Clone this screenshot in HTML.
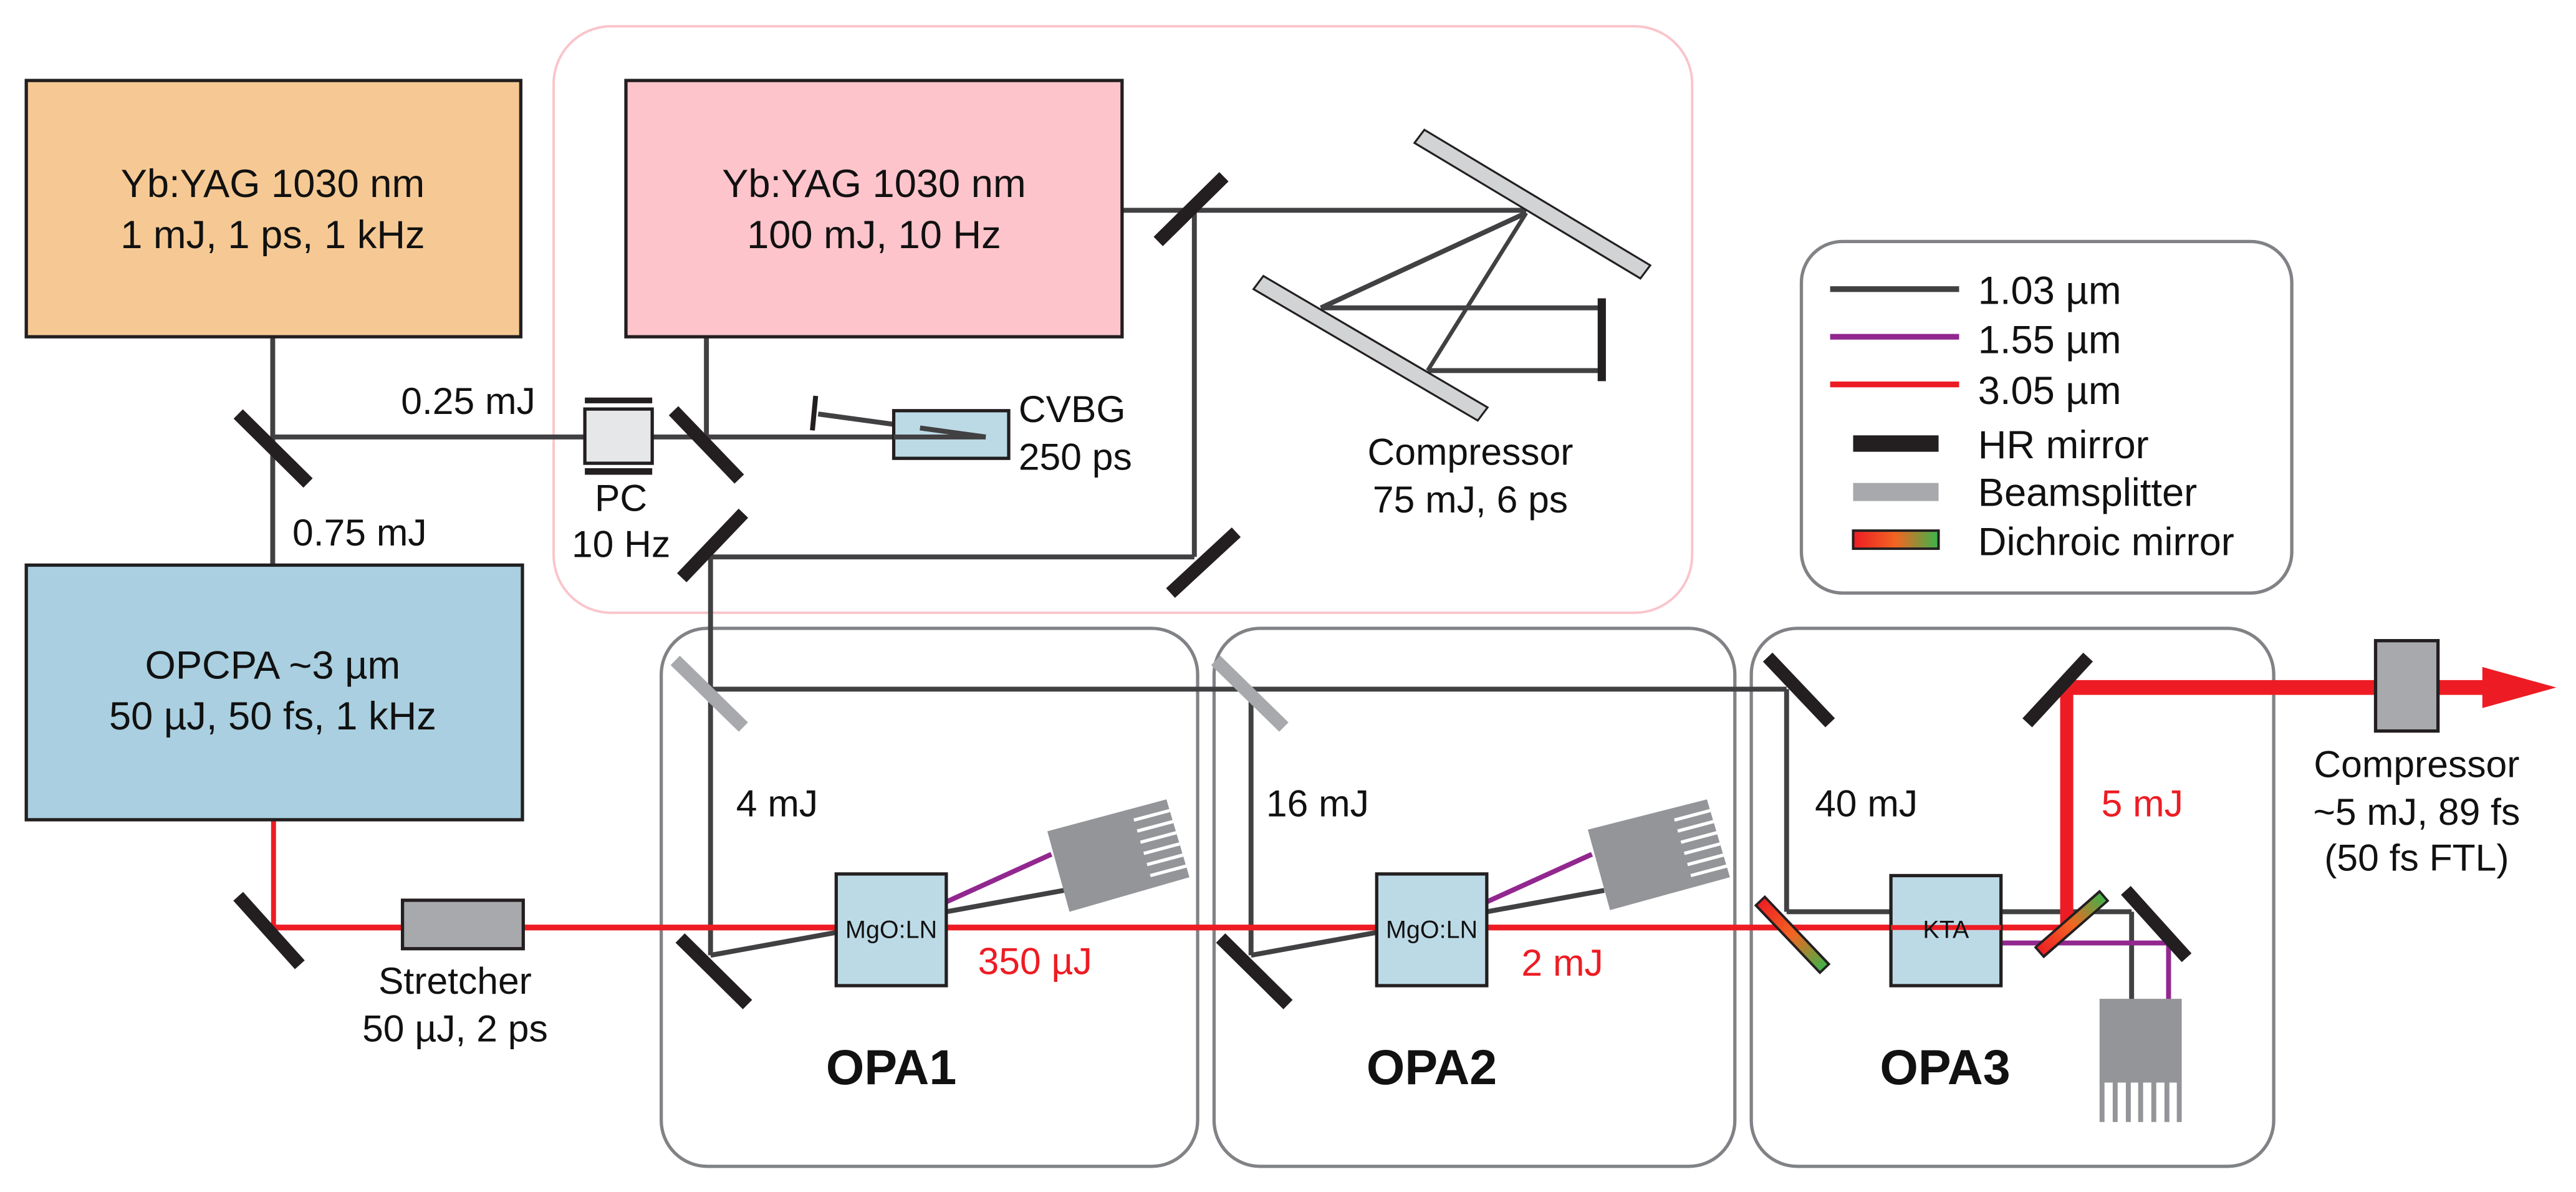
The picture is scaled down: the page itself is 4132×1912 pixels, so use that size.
<!DOCTYPE html>
<html><head><meta charset="utf-8"><style>
html,body{margin:0;padding:0;background:#fff;}
svg{display:block;}
text{font-family:"Liberation Sans",Arial,sans-serif;fill:#111;}
</style></head><body>
<svg xmlns="http://www.w3.org/2000/svg" width="4132" height="1912" viewBox="0 0 1568 725.6" preserveAspectRatio="none">
<defs>
<linearGradient id="dg" x1="0" y1="0" x2="1" y2="0">
<stop offset="0" stop-color="#ed1c24"/><stop offset="0.5" stop-color="#f26522"/><stop offset="1" stop-color="#39b54a"/>
</linearGradient>
<linearGradient id="dg1" gradientUnits="userSpaceOnUse" x1="1071" y1="548" x2="1111" y2="590">
<stop offset="0" stop-color="#ed1c24"/><stop offset="0.5" stop-color="#f26522"/><stop offset="1" stop-color="#39b54a"/>
</linearGradient>
<linearGradient id="dg2" gradientUnits="userSpaceOnUse" x1="1241" y1="580" x2="1281" y2="545">
<stop offset="0" stop-color="#ed1c24"/><stop offset="0.5" stop-color="#f26522"/><stop offset="1" stop-color="#39b54a"/>
</linearGradient>
</defs>

<rect x="337" y="16" width="693" height="357" rx="35" fill="none" stroke="#f9c5cb" stroke-width="1.5"/>
<rect x="402.5" y="382.5" width="326.5" height="327.5" rx="28" fill="none" stroke="#808285" stroke-width="2"/>
<rect x="739" y="382.5" width="317" height="327.5" rx="28" fill="none" stroke="#808285" stroke-width="2"/>
<rect x="1066" y="382.5" width="318" height="327.5" rx="28" fill="none" stroke="#808285" stroke-width="2"/>
<rect x="1096.5" y="147" width="298.5" height="214" rx="25" fill="none" stroke="#808285" stroke-width="2"/>

<g stroke="#414042" stroke-width="3" fill="none">
<line x1="166" y1="205" x2="166" y2="344"/>
<line x1="166" y1="266" x2="600" y2="266"/>
<line x1="430" y1="205" x2="430" y2="266"/>
<line x1="600" y1="266" x2="498" y2="252"/>
<line x1="683" y1="128" x2="929" y2="128"/>
<line x1="727" y1="128" x2="727" y2="339"/>
<line x1="433" y1="339" x2="727" y2="339"/>
<line x1="432.5" y1="339" x2="432.5" y2="581.5"/>
<line x1="432.5" y1="419.5" x2="1087.5" y2="419.5"/>
<line x1="1087.5" y1="419.5" x2="1087.5" y2="555"/>
<line x1="1087.5" y1="555" x2="1151" y2="555"/>
<line x1="432.5" y1="581.5" x2="509" y2="567.6"/>
<line x1="576" y1="555" x2="647.5" y2="542"/>
<line x1="761.5" y1="419.5" x2="761.5" y2="581.5"/>
<line x1="761.5" y1="581.5" x2="838" y2="567.6"/>
<line x1="905" y1="555" x2="976.5" y2="542"/>
<line x1="929" y1="129.6" x2="804" y2="187.4"/>
<line x1="929" y1="129.6" x2="869" y2="225.6" stroke-width="2.5"/>
<line x1="804" y1="187.4" x2="975" y2="187.4"/>
<line x1="869" y1="225.6" x2="975" y2="225.6"/>
<line x1="1218" y1="555" x2="1297.5" y2="555"/>
<line x1="1297.5" y1="555" x2="1297.5" y2="610"/>
</g>
<line x1="496.5" y1="241" x2="494.5" y2="262" stroke="#231f20" stroke-width="3"/>
<g stroke="#92278f" stroke-width="3" fill="none">
<line x1="576" y1="549" x2="640" y2="520"/>
<line x1="905" y1="549" x2="969" y2="520"/>
<polyline points="1218,574 1320,574 1320,610"/>
</g>
<g stroke="#ed1c24" fill="none">
<line x1="166.5" y1="499" x2="166.5" y2="564.6" stroke-width="3"/>
<line x1="166" y1="564.6" x2="1260" y2="564.6" stroke-width="3.5"/>
<line x1="1258" y1="566" x2="1258" y2="414" stroke-width="8"/>
<line x1="1254" y1="418.5" x2="1513" y2="418.5" stroke-width="9"/>
</g>
<polygon points="1511,406 1556,418.5 1511,431" fill="#ed1c24"/>

<rect x="16" y="49" width="301" height="156" fill="#f6c994" stroke="#231f20" stroke-width="2"/>
<rect x="381" y="49" width="302" height="156" fill="#fec4cb" stroke="#231f20" stroke-width="2"/>
<rect x="16" y="344" width="302" height="155" fill="#a9cfe0" stroke="#231f20" stroke-width="2"/>
<rect x="245" y="548" width="73.5" height="29.5" fill="#a7a9ac" stroke="#231f20" stroke-width="2"/>
<rect x="544" y="250" width="70" height="29" fill="#bcdae6" stroke="#231f20" stroke-width="2"/>
<line x1="600" y1="266" x2="544" y2="266" stroke="#414042" stroke-width="3"/>
<line x1="600" y1="266" x2="560" y2="260.5" stroke="#414042" stroke-width="3"/>
<rect x="356" y="249" width="41" height="33" fill="#e6e7e8" stroke="#231f20" stroke-width="2"/>
<rect x="356" y="242" width="41" height="3.5" fill="#231f20"/>
<rect x="356" y="285" width="41" height="4" fill="#231f20"/>
<rect x="509" y="532" width="67" height="68" fill="#bcdae6" stroke="#231f20" stroke-width="2"/>
<rect x="838" y="532" width="67" height="68" fill="#bcdae6" stroke="#231f20" stroke-width="2"/>
<rect x="1151" y="533" width="67" height="67" fill="#bcdae6" stroke="#231f20" stroke-width="2"/>
<line x1="1151" y1="564.6" x2="1218" y2="564.6" stroke="#ed1c24" stroke-width="3"/>
<rect x="1446" y="390" width="38" height="55" fill="#a7a9ac" stroke="#231f20" stroke-width="2"/>

<g fill="#939598">
<polygon points="637.5,506 651,555 724,534 710,486.6"/>
<polygon points="966.5,505 980,554 1053,534 1039,486.6"/>
<rect x="1278" y="608" width="50" height="51"/>
</g>
<g stroke="#fff" stroke-width="2">
<line x1="712" y1="493.4" x2="690.2" y2="499.2"/><line x1="714" y1="500.1" x2="692.2" y2="505.9"/><line x1="716" y1="506.9" x2="694.2" y2="512.7"/><line x1="718" y1="513.7" x2="696.2" y2="519.5"/><line x1="720" y1="520.5" x2="698.2" y2="526.3"/><line x1="722" y1="527.2" x2="700.2" y2="533"/>
<line x1="1041" y1="493.4" x2="1019.2" y2="499.2"/><line x1="1043" y1="500.1" x2="1021.2" y2="505.9"/><line x1="1045" y1="506.9" x2="1023.2" y2="512.7"/><line x1="1047" y1="513.7" x2="1025.2" y2="519.5"/><line x1="1049" y1="520.5" x2="1027.2" y2="526.3"/><line x1="1051" y1="527.2" x2="1029.2" y2="533"/>
</g>
<g stroke="#939598" stroke-width="3">
<line x1="1279.5" y1="658" x2="1279.5" y2="683"/><line x1="1287.5" y1="658" x2="1287.5" y2="683"/><line x1="1295.5" y1="658" x2="1295.5" y2="683"/><line x1="1303" y1="658" x2="1303" y2="683"/><line x1="1311" y1="658" x2="1311" y2="683"/><line x1="1319" y1="658" x2="1319" y2="683"/><line x1="1326.5" y1="658" x2="1326.5" y2="683"/>
</g>

<polygon points="861,87 867,79 1004.5,161.5 998.5,169.5" fill="#d1d3d4" stroke="#231f20" stroke-width="1.2"/>
<polygon points="763,176 769,168 905.5,248 899.5,256" fill="#d1d3d4" stroke="#231f20" stroke-width="1.2"/>
<line x1="975" y1="181.6" x2="975" y2="232" stroke="#231f20" stroke-width="5"/>

<g stroke="#231f20" stroke-width="8">
<line x1="145" y1="252" x2="187.5" y2="294"/>
<line x1="410" y1="250" x2="450" y2="291.6"/>
<line x1="415" y1="351.7" x2="452.5" y2="312.4"/>
<line x1="705" y1="147" x2="745" y2="107.6"/>
<line x1="712.5" y1="361" x2="752.5" y2="324"/>
<line x1="145" y1="545.6" x2="182.5" y2="587.3"/>
<line x1="414" y1="571" x2="455" y2="611.5"/>
<line x1="743" y1="571" x2="784" y2="611.5"/>
<line x1="1076" y1="400" x2="1114" y2="440"/>
<line x1="1234" y1="440" x2="1271" y2="400"/>
<line x1="1294" y1="542" x2="1331" y2="583"/>
</g>
<g stroke="#a7a9ac" stroke-width="8">
<line x1="411" y1="402" x2="452.5" y2="442.6"/>
<line x1="740" y1="402" x2="781.5" y2="442.6"/>
</g>
<line x1="1071" y1="548" x2="1111" y2="590" stroke="#231f20" stroke-width="9"/>
<line x1="1072" y1="549" x2="1110" y2="589" stroke="url(#dg1)" stroke-width="6"/>
<line x1="1241" y1="580" x2="1281" y2="545" stroke="#231f20" stroke-width="9"/>
<line x1="1242" y1="579" x2="1280" y2="546" stroke="url(#dg2)" stroke-width="6"/>

<line x1="1114" y1="176" x2="1192.5" y2="176" stroke="#414042" stroke-width="3.5"/>
<line x1="1114" y1="205" x2="1192.5" y2="205" stroke="#92278f" stroke-width="3.5"/>
<line x1="1114" y1="234" x2="1192.5" y2="234" stroke="#ed1c24" stroke-width="3.5"/>
<rect x="1128" y="265" width="52" height="10" fill="#231f20"/>
<rect x="1128" y="294" width="52" height="11" fill="#a7a9ac"/>
<rect x="1128" y="323" width="52" height="11" fill="url(#dg)" stroke="#231f20" stroke-width="1.5"/>
<g font-size="24">
<text x="1204" y="185">1.03 µm</text>
<text x="1204" y="215">1.55 µm</text>
<text x="1204" y="246">3.05 µm</text>
<text x="1204" y="279">HR mirror</text>
<text x="1204" y="308">Beamsplitter</text>
<text x="1204" y="338">Dichroic mirror</text>
</g>

<g font-size="24" text-anchor="middle">
<text x="166" y="120">Yb:YAG 1030 nm</text>
<text x="166" y="151">1 mJ, 1 ps, 1 kHz</text>
<text x="532" y="120">Yb:YAG 1030 nm</text>
<text x="532" y="151">100 mJ, 10 Hz</text>
<text x="166" y="413">OPCPA ~3 µm</text>
<text x="166" y="444">50 µJ, 50 fs, 1 kHz</text>
</g>
<g font-size="23">
<text x="285" y="252" text-anchor="middle">0.25 mJ</text>
<text x="178" y="332">0.75 mJ</text>
<text x="378" y="311" text-anchor="middle">PC</text>
<text x="378" y="339" text-anchor="middle">10 Hz</text>
<text x="620" y="257">CVBG</text>
<text x="620" y="286">250 ps</text>
<text x="895" y="283" text-anchor="middle">Compressor</text>
<text x="895" y="312" text-anchor="middle">75 mJ, 6 ps</text>
<text x="277" y="605" text-anchor="middle">Stretcher</text>
<text x="277" y="634" text-anchor="middle">50 µJ, 2 ps</text>
<text x="473" y="497" text-anchor="middle">4 mJ</text>
<text x="802" y="497" text-anchor="middle">16 mJ</text>
<text x="1136" y="497" text-anchor="middle">40 mJ</text>
<text x="1304" y="497" text-anchor="middle" style="fill:#ed1c24">5 mJ</text>
<text x="630" y="593" text-anchor="middle" style="fill:#ed1c24">350 µJ</text>
<text x="951" y="594" text-anchor="middle" style="fill:#ed1c24">2 mJ</text>
<text x="1471" y="473" text-anchor="middle">Compressor</text>
<text x="1471" y="502" text-anchor="middle">~5 mJ, 89 fs</text>
<text x="1471" y="530" text-anchor="middle">(50 fs FTL)</text>
</g>
<g font-size="15" text-anchor="middle">
<text x="542.5" y="571">MgO:LN</text>
<text x="871.5" y="571">MgO:LN</text>
<text x="1184.5" y="571">KTA</text>
</g>
<g font-size="30" font-weight="bold" text-anchor="middle">
<text x="542.5" y="660">OPA1</text>
<text x="871.5" y="660">OPA2</text>
<text x="1184" y="660">OPA3</text>
</g>
</svg>
</body></html>
